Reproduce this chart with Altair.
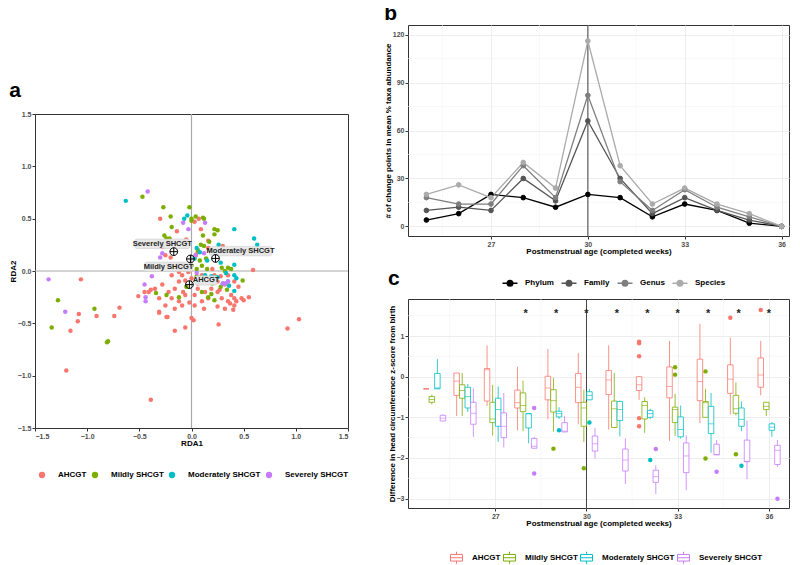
import altair as alt
import pandas as pd

# ---------------- Panel a : RDA scatter ----------------
groups = ["AHCGT", "Mildly SHCGT", "Moderately SHCGT", "Severely SHCGT"]
group_colors = ["#F8766D", "#7CAE00", "#00BFC4", "#C77CFF"]

ahcgt_x = [-1.06, -1.08, -1.09, -1.16, -1.20, -0.91, -0.74, -0.69, -0.51, -0.45, -0.39, -0.31, -0.23, -0.16,
           -0.06, 0.02, 0.26, 0.92, 1.03, 0.59, 0.55, 0.50, 0.41, 0.43, -0.39, -0.30, -0.14, -0.28, -0.25,
           0.03, 0.07, 0.16, 0.30, -0.20, -0.12,
           -0.09, -0.06, -0.12, -0.16, -0.08, -0.22, -0.28, -0.35, -0.41, -0.31, -0.25, -0.19, -0.12, -0.09,
           0.00, 0.06, 0.13, 0.19, 0.25, 0.29, 0.35, 0.38, 0.41, 0.48, 0.32, 0.16, 0.10, 0.25, 0.32, 0.16,
           0.22, 0.35, 0.41, 0.10, 0.00, -0.03, -0.12, -0.19, -0.09, -0.16, 0.06, 0.16, -0.06, 0.03, 0.03,
           -0.16, -0.24, -0.31, 0.25, 0.40, 0.06, 0.28, 0.20, -0.05, 0.09, 0.27, -0.02, 0.12, 0.45, 0.37]
ahcgt_y = [-0.08, -0.41, -0.48, -0.57, -0.95, -0.43, -0.43, -0.35, -0.24, -0.20, -0.18, -0.40, -0.44, -0.57,
           -0.54, -0.47, -0.51, -0.55, -0.46, 0.01, -0.25, -0.28, -0.26, -0.29, -1.23, 0.50, 0.38, 0.23, 0.15,
           0.47, 0.50, 0.29, 0.24, 0.13, 0.06,
           -0.04, -0.09, -0.10, -0.17, -0.20, -0.20, -0.13, -0.17, -0.20, -0.26, -0.33, -0.26, -0.29, -0.33,
           -0.45, -0.17, -0.20, -0.17, -0.20, -0.26, -0.29, -0.23, -0.33, -0.26, -0.36, -0.26, -0.29, -0.10,
           -0.13, -0.07, -0.04, -0.04, -0.10, -0.04, -0.07, -0.01, -0.01, -0.04, 0.06, 0.25, 0.18, 0.22,
           -0.23, -0.23, -0.33, -0.36, -0.44, -0.39, -0.34, -0.37, -0.12, -0.05, 0.02, 0.30, 0.40, -0.18,
           -0.30, -0.36, -0.15, -0.31]

mildly_x = [-1.28, -1.34, -0.93, -0.80, -0.81, -0.47, -0.34, -0.24, 0.49, -0.27, -0.20, -0.19, -0.26, -0.24,
            -0.21, -0.02, 0.00, 0.00, 0.04, 0.11, 0.12, 0.22, 0.25, 0.11, 0.17, 0.22, 0.09, 0.12, 0.06, 0.04,
            0.08, 0.10, 0.15, 0.29, 0.35, 0.10, 0.16, 0.19, 0.34, 0.05, -0.05, 0.28, 0.22, 0.32, 0.38, 0.14,
            0.05, 0.00, -0.12, 0.20]
mildly_y = [-0.28, -0.54, -0.36, -0.67, -0.68, 0.71, -0.21, -0.23, -0.09, 0.61, 0.52, 0.42, 0.34, 0.31,
            0.31, 0.61, 0.50, 0.48, 0.52, 0.51, 0.50, 0.40, 0.39, 0.34, 0.28, 0.35, 0.25, 0.24, 0.20, 0.15,
            0.10, 0.05, 0.02, 0.03, 0.03, -0.20, -0.25, -0.22, -0.18, -0.05, -0.15, -0.15, -0.28, 0.00, 0.02,
            0.12, 0.02, 0.05, -0.25, -0.12]

moderately_x = [-0.63, 0.60, 0.63, 0.41, -0.07, -0.04, 0.26, 0.05, 0.03, 0.41, 0.13, 0.19, 0.41, 0.43, 0.41,
                0.20, 0.25, 0.30, 0.35, 0.15, 0.08, 0.28, 0.33, 0.22, 0.36]
moderately_y = [0.67, 0.31, 0.25, 0.40, 0.50, 0.53, 0.25, 0.22, 0.12, 0.06, -0.04, -0.05, -0.04, -0.07, -0.19,
                0.20, -0.06, -0.12, -0.10, 0.10, 0.18, 0.08, -0.02, -0.06, -0.14]

severely_x = [-0.42, -1.37, -1.21, -0.45, -0.44, -0.44, -0.08, -0.03, 0.13, -0.28, -0.30, 0.04, 0.12, 0.35,
              0.32, -0.38, 0.30, 0.05]
severely_y = [0.76, -0.08, -0.39, -0.13, -0.25, -0.29, 0.46, 0.40, 0.46, 0.17, 0.13, 0.15, 0.17, -0.10,
              -0.12, -0.05, -0.12, -0.02]

centroid_x = [-0.02, -0.01, 0.23, -0.17]
centroid_y = [-0.13, 0.115, 0.12, 0.185]
label_x = [0.14, -0.22, 0.47, -0.28]
label_y = [-0.09, 0.04, 0.19, 0.26]
rda_ticks = [-1.5, -1.0, -0.5, 0.0, 0.5, 1.0, 1.5]
zero_line = [0]

# ---------------- Panel b : change points ----------------
weeks = list(range(25, 37))
levels = ["Phylum", "Family", "Genus", "Species"]
level_colors = ["#000000", "#555555", "#7f7f7f", "#ababab"]
phylum = [4, 8, 20, 18, 12, 20, 18, 6, 14, 10, 2, 0]
family = [10, 12, 10, 30, 16, 66, 30, 8, 18, 10, 4, 0]
genus = [18, 14, 14, 38, 18, 82, 28, 10, 23, 12, 6, 0]
species = [20, 26, 18, 40, 24, 116, 38, 14, 24, 14, 8, 0]
b_y_ticks = [0, 30, 60, 90, 120]
b_y_minor = [15, 45, 75, 105]
x_major = [27, 30, 33, 36]
x_minor = [25.5, 28.5, 31.5, 34.5]
marker_week = [30]

# ---------------- Panel c : head circumference boxplots ----------------
# per group, per week 25..36 : lower whisker, Q1, median, Q3, upper whisker
box_lo = {
    "AHCGT": [-0.30, -0.97, -0.72, -1.32, -1.05, -1.17, -1.30, -0.57, -1.58, -1.14, -0.93, -0.46],
    "Mildly SHCGT": [-0.68, -0.97, -1.45, -1.34, -1.35, -1.61, -1.25, -1.38, -1.46, -1.00, -0.95, -0.97],
    "Moderately SHCGT": [-0.30, -0.87, -1.60, -1.64, -1.04, -0.57, -1.47, -1.04, -1.52, -1.87, -1.34, -1.48],
    "Severely SHCGT": [-1.10, -1.48, -1.74, -1.76, -1.36, -2.01, -2.64, -2.89, -2.79, -1.92, -2.52, -2.22],
}
box_q1 = {
    "AHCGT": [-0.30, -0.46, -0.60, -0.77, -0.57, -0.64, -0.44, -0.34, -0.52, -0.59, -0.41, -0.26],
    "Mildly SHCGT": [-0.63, -0.53, -1.13, -0.86, -0.87, -1.22, -1.25, -1.04, -1.13, -1.00, -0.90, -0.81],
    "Moderately SHCGT": [-0.30, -0.77, -1.22, -1.26, -0.99, -0.57, -1.08, -1.00, -1.48, -1.40, -1.22, -1.32],
    "Severely SHCGT": [-1.09, -1.17, -1.50, -1.76, -1.36, -1.83, -2.32, -2.60, -2.36, -1.92, -2.09, -2.16],
}
box_med = {
    "AHCGT": [-0.30, -0.11, 0.17, -0.64, -0.28, -0.26, -0.08, -0.20, -0.24, -0.12, -0.06, 0.04],
    "Mildly SHCGT": [-0.56, -0.34, -1.04, -0.71, -0.59, -0.77, -0.79, -0.71, -0.81, -0.64, -0.79, -0.73],
    "Moderately SHCGT": [-0.28, -0.49, -0.81, -0.91, -0.91, -0.46, -0.81, -0.91, -1.30, -1.16, -1.05, -1.24],
    "Severely SHCGT": [-1.02, -0.90, -1.22, -1.71, -1.34, -1.65, -2.05, -2.46, -1.95, -1.92, -2.09, -1.81],
}
box_q3 = {
    "AHCGT": [-0.30, 0.09, 0.20, -0.33, 0.01, 0.08, 0.15, 0.00, 0.24, 0.43, 0.29, 0.46],
    "Mildly SHCGT": [-0.49, -0.20, -0.63, -0.40, -0.32, -0.63, -0.60, -0.61, -0.75, -0.61, -0.46, -0.63],
    "Moderately SHCGT": [0.08, -0.26, -0.53, -0.91, -0.85, -0.37, -0.61, -0.83, -0.99, -0.73, -0.77, -1.16],
    "Severely SHCGT": [-0.95, -0.63, -0.89, -1.52, -1.13, -1.46, -1.78, -2.30, -1.63, -1.66, -1.56, -1.69],
}
box_hi = {
    "AHCGT": [-0.30, 0.09, 0.77, 0.24, 0.68, 0.58, 0.77, 0.00, 0.88, 1.30, 0.96, 0.88],
    "Mildly SHCGT": [-0.44, 0.09, -0.20, -0.10, -0.03, -0.32, 0.09, -0.51, -0.42, -0.30, -0.14, -0.63],
    "Moderately SHCGT": [0.43, -0.18, -0.24, -0.91, -0.75, -0.30, -0.59, -0.79, -0.71, -0.40, -0.61, -1.12],
    "Severely SHCGT": [-0.93, -0.29, -0.40, -1.48, -0.97, -1.26, -1.52, -2.18, -1.44, -1.56, -1.08, -1.56],
}
out_week = [28, 28, 29, 29, 30, 30, 32, 32, 32, 32, 32, 32, 32, 33, 33, 34, 34, 34, 35, 35, 35, 36, 36]
out_group = ["Severely SHCGT", "Severely SHCGT", "Mildly SHCGT", "Moderately SHCGT", "Mildly SHCGT",
             "Moderately SHCGT", "AHCGT", "AHCGT", "AHCGT", "AHCGT", "AHCGT", "Moderately SHCGT",
             "Severely SHCGT", "Mildly SHCGT", "Mildly SHCGT", "Mildly SHCGT", "Mildly SHCGT",
             "Severely SHCGT", "AHCGT", "Mildly SHCGT", "Moderately SHCGT", "AHCGT", "Severely SHCGT"]
out_value = [-0.77, -2.38, -1.77, -1.32, -2.25, -1.13, 0.86, 0.82, 0.50, -1.02, -1.22, -2.05, -1.78,
             0.23, 0.05, 0.13, -2.01, -2.34, 1.45, -1.91, -2.19, 1.64, -3.00]
sig_weeks = [28, 29, 30, 31, 32, 33, 34, 35, 36]
sig_y = 1.68
c_y_ticks = [-3, -2, -1, 0, 1]
c_y_minor = [-2.5, -1.5, -0.5, 0.5, 1.5]

# ================= build tables =================
scat = pd.concat([
    pd.DataFrame({"RDA1": ahcgt_x, "RDA2": ahcgt_y, "group": groups[0]}),
    pd.DataFrame({"RDA1": mildly_x, "RDA2": mildly_y, "group": groups[1]}),
    pd.DataFrame({"RDA1": moderately_x, "RDA2": moderately_y, "group": groups[2]}),
    pd.DataFrame({"RDA1": severely_x, "RDA2": severely_y, "group": groups[3]}),
], ignore_index=True)
cent = pd.DataFrame({"cx": centroid_x, "cy": centroid_y, "lx": label_x, "ly": label_y, "label": groups})

TITLE_FONT = 21
gscale = alt.Scale(domain=groups, range=group_colors)
xa = alt.X("RDA1:Q", scale=alt.Scale(domain=[-1.5, 1.5], nice=False, zero=False, padding=0),
           axis=alt.Axis(values=rda_ticks, format=".1f", title="RDA1", grid=False))
ya = alt.Y("RDA2:Q", scale=alt.Scale(domain=[-1.5, 1.5], nice=False, zero=False, padding=0),
           axis=alt.Axis(values=rda_ticks, format=".1f", title="RDA2", grid=False))

zdf = pd.DataFrame({"v": zero_line})
zx = alt.Chart(zdf).mark_rule(color="#a9a9a9", strokeWidth=1.2).encode(x=alt.X("v:Q"))
zy = alt.Chart(zdf).mark_rule(color="#a9a9a9", strokeWidth=1.2).encode(y=alt.Y("v:Q"))
pts = alt.Chart(scat).mark_circle(size=20, opacity=1).encode(
    x=xa, y=ya,
    color=alt.Color("group:N", scale=gscale,
                    legend=alt.Legend(orient="none", legendX=3, legendY=357, direction="horizontal",
                                      title=None, symbolType="circle", symbolSize=40, labelOffset=12,
                                      columnPadding=4, symbolStrokeWidth=0)))
crossh = "M-1,0A1,1,0,1,0,1,0A1,1,0,1,0,-1,0ZM-1,0L1,0M0,-1L0,1"
cross = alt.Chart(cent).mark_point(shape=crossh, size=60, filled=False, color="black", strokeWidth=1,
                                   opacity=1).encode(x="cx:Q", y="cy:Q")
lbl_base = alt.Chart(cent).transform_calculate(
    hw="length(datum.label) * 0.0175 + 0.02",
    xl="datum.lx - datum.hw", xr="datum.lx + datum.hw",
    yl="datum.ly - 0.045", yr="datum.ly + 0.045")
lbl_box = lbl_base.mark_rect(fill="#e6e6e6", stroke="#c8c8c8", strokeWidth=0.5, cornerRadius=2,
                             opacity=0.95).encode(x="xl:Q", x2="xr:Q", y="yl:Q", y2="yr:Q")
lbl_txt = alt.Chart(cent).mark_text(fontSize=7.5, fontWeight="bold", color="#222222").encode(
    x="lx:Q", y="ly:Q", text="label:N")

panel_a = alt.layer(zx, zy, pts, lbl_box, lbl_txt, cross).properties(
    width=313, height=314, title=alt.TitleParams("a", offset=9))

spacer = alt.Chart(pd.DataFrame({"s": [0]})).mark_point(opacity=0, size=1).encode(
    x=alt.X("s:Q", axis=None), y=alt.Y("s:Q", axis=None)).properties(
    width=10, height=53, view=alt.ViewBackground(stroke="transparent"))

left = alt.vconcat(spacer, panel_a, spacing=0).resolve_scale(
    x="independent", y="independent", color="independent").resolve_legend(color="independent")

# ---- panel b ----
dfb = pd.DataFrame({
    "week": weeks * 4,
    "level": sum([[l] * len(weeks) for l in levels], []),
    "count": phylum + family + genus + species,
})
lscale = alt.Scale(domain=levels, range=level_colors)
leg_b = alt.Legend(orient="none", legendX=96, legendY=252, direction="horizontal", title=None,
                   symbolType="M-1.5,0L1.5,0M-0.55,0A0.55,0.55,0,1,0,0.55,0A0.55,0.55,0,1,0,-0.55,0Z",
                   symbolSize=100, symbolStrokeWidth=1.5, labelOffset=9, columnPadding=4)
xb = alt.X("week:Q", scale=alt.Scale(domain=[24.43, 36.23], nice=False, zero=False, padding=0),
           axis=alt.Axis(values=x_major, title="Postmenstrual age (completed weeks)", grid=True,
                         gridColor="#ebebeb", gridWidth=0.9))
yb = alt.Y("count:Q", scale=alt.Scale(domain=[-6, 126], nice=False, zero=False, padding=0),
           axis=alt.Axis(values=b_y_ticks, title="# of change points in mean % taxa abundance", grid=True,
                         gridColor="#ebebeb", gridWidth=0.9))
bminx = alt.Chart(pd.DataFrame({"m": x_minor})).mark_rule(color="#f3f3f3", strokeWidth=0.6).encode(x="m:Q")
bminy = alt.Chart(pd.DataFrame({"m": b_y_minor})).mark_rule(color="#f3f3f3", strokeWidth=0.6).encode(y="m:Q")
bvline = alt.Chart(pd.DataFrame({"m": marker_week})).mark_rule(color="#444444", strokeWidth=1).encode(x="m:Q")
blines = alt.Chart(dfb).mark_line(strokeWidth=1.3).encode(
    x=xb, y=yb, color=alt.Color("level:N", scale=lscale, legend=leg_b), order="week:Q")
bpts = alt.Chart(dfb).mark_point(filled=False, size=22, strokeWidth=1, opacity=1).encode(
    x=xb, y=yb, color=alt.Color("level:N", scale=lscale, legend=leg_b),
    fill=alt.Fill("level:N", scale=lscale, legend=leg_b))
panel_b = alt.layer(bminx, bminy, bvline, blines, bpts).properties(
    width=381, height=211, title=alt.TitleParams("b", offset=1))

# ---- panel c ----
rows = []
for gi, g in enumerate(groups):
    for wi, w in enumerate(weeks):
        rows.append({"week": w, "group": g, "slot": gi, "lo": box_lo[g][wi], "q1": box_q1[g][wi],
                     "med": box_med[g][wi], "q3": box_q3[g][wi], "hi": box_hi[g][wi]})
dfc = pd.DataFrame(rows)
dfo = pd.DataFrame({"week": out_week, "group": out_group, "val": out_value})
dfo["slot"] = [groups.index(g) for g in out_group]
pos_expr = "datum.week + (datum.slot - 1.5) * 0.183 + 0.005"

xc = alt.X("pos:Q", scale=alt.Scale(domain=[24.13, 36.66], nice=False, zero=False, padding=0),
           axis=alt.Axis(values=x_major, title="Postmenstrual age (completed weeks)", grid=True,
                         gridColor="#ebebeb", gridWidth=0.9))
yc_axis = alt.Axis(values=c_y_ticks, title="Difference in head circumference z-score from birth", grid=True,
                   gridColor="#ebebeb", gridWidth=0.9)
yscale_c = alt.Scale(domain=[-3.23, 1.91], nice=False, zero=False, padding=0)
# box glyph drawn as separate line segments so it never gets a filled interior
box_glyph = ("M-1,-0.55L1,-0.55M1,-0.55L1,0.55M1,0.55L-1,0.55M-1,0.55L-1,-0.55"
             "M-1,0L1,0M0,-0.55L0,-1M0,0.55L0,1")
leg_c = alt.Legend(orient="none", legendX=42, legendY=252, direction="horizontal", title=None,
                   symbolType=box_glyph, symbolSize=144, symbolStrokeWidth=1, labelOffset=9,
                   columnPadding=0)
cminx = alt.Chart(pd.DataFrame({"pos": x_minor})).mark_rule(color="#f3f3f3", strokeWidth=0.6).encode(
    x=alt.X("pos:Q"))
cminy = alt.Chart(pd.DataFrame({"m": c_y_minor})).mark_rule(color="#f3f3f3", strokeWidth=0.6).encode(
    y=alt.Y("m:Q", scale=yscale_c, axis=yc_axis))
cvline = alt.Chart(pd.DataFrame({"pos": marker_week})).mark_rule(color="#444444", strokeWidth=1).encode(
    x=alt.X("pos:Q"))
cbase = alt.Chart(dfc).transform_calculate(pos=pos_expr)
whisk = cbase.mark_rule(strokeWidth=0.8).encode(
    x=xc, y=alt.Y("lo:Q", scale=yscale_c, axis=yc_axis), y2="hi:Q",
    stroke=alt.Stroke("group:N", scale=gscale, legend=leg_c))
boxes = cbase.mark_bar(size=5.5, fill="white", strokeWidth=0.8).encode(
    x=xc, y=alt.Y("q1:Q", scale=yscale_c, axis=yc_axis), y2="q3:Q",
    stroke=alt.Stroke("group:N", scale=gscale, legend=None))
meds = cbase.mark_tick(orient="horizontal", size=5.5, thickness=0.9).encode(
    x=xc, y=alt.Y("med:Q", scale=yscale_c, axis=yc_axis),
    color=alt.Color("group:N", scale=gscale, legend=None))
outl = alt.Chart(dfo).transform_calculate(pos=pos_expr).mark_circle(size=20, opacity=1).encode(
    x=xc, y=alt.Y("val:Q", scale=yscale_c, axis=yc_axis),
    color=alt.Color("group:N", scale=gscale, legend=None))
stars = alt.Chart(pd.DataFrame({"pos": sig_weeks, "sy": [sig_y] * len(sig_weeks)})).mark_text(
    text="*", fontSize=11, fontWeight="bold", dy=6, color="#222222").encode(
    x=alt.X("pos:Q"), y=alt.Y("sy:Q", scale=yscale_c, axis=yc_axis))
panel_c = alt.layer(cminx, cminy, cvline, whisk, boxes, meds, outl, stars).properties(
    width=381, height=209, title=alt.TitleParams("c", offset=10))

right = alt.vconcat(panel_b, panel_c, spacing=63, bounds="flush").resolve_scale(
    x="independent", y="independent", color="independent", fill="independent", stroke="independent"
).resolve_legend(color="independent", fill="independent", stroke="independent")

chart = alt.hconcat(left, right, spacing=33).resolve_scale(
    x="independent", y="independent", color="independent", fill="independent", stroke="independent"
).resolve_legend(color="independent", fill="independent", stroke="independent").properties(
    padding={"left": 0, "top": -6, "right": 0, "bottom": 0}
).configure(font="Liberation Sans").configure_view(stroke="#333333", strokeWidth=1).configure_axis(
    domain=False, tickColor="#333333", tickSize=3, labelFontSize=7, labelFontWeight="bold",
    labelColor="#4d4d4d", titleFontSize=8, titleFontWeight="bold", titleColor="#000000",
    labelPadding=1, titlePadding=0
).configure_legend(labelFontSize=8, labelFontWeight="bold", labelColor="#000000").configure_title(
    fontSize=TITLE_FONT, fontWeight="bold", anchor="start", frame="bounds", color="#000000")

chart.save("out.html", embed_options={"renderer": "svg", "actions": False})
